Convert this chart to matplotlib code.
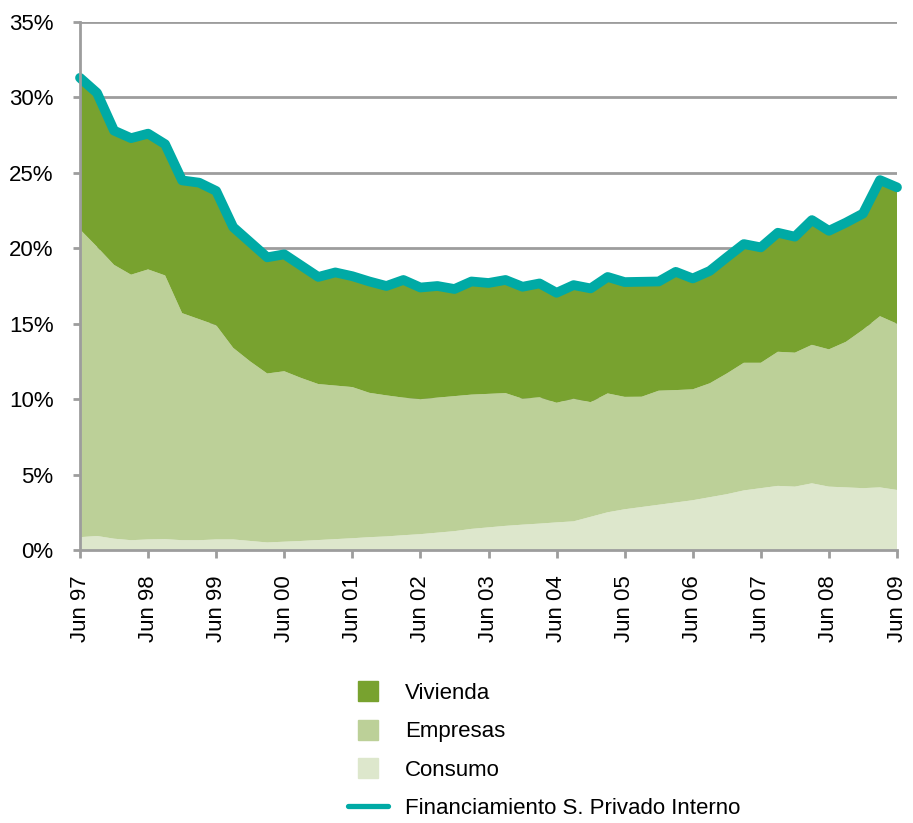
import numpy as np
import matplotlib
matplotlib.use("Agg")
import matplotlib.pyplot as plt
from matplotlib.lines import Line2D

plt.rcParams['font.family'] = ['Liberation Sans', 'DejaVu Sans']

# niveles acumulados (% del PIB), trimestral Jun 97 - Jun 09
consumo = [0.85, 0.93, 0.75, 0.65, 0.70, 0.72, 0.65, 0.65, 0.70, 0.70,
           0.60, 0.50, 0.55, 0.60, 0.66, 0.72, 0.78, 0.85, 0.90, 0.98,
           1.05, 1.15, 1.25, 1.40, 1.50, 1.60, 1.68, 1.75, 1.83, 1.90,
           2.20, 2.50, 2.70, 2.85, 3.00, 3.15, 3.30, 3.50, 3.70, 3.95,
           4.10, 4.25, 4.20, 4.42, 4.20, 4.15, 4.10, 4.15, 3.98]
tope_empresas = [21.25, 20.1, 18.9, 18.25, 18.6, 18.2, 15.7, 15.3, 14.9, 13.4,
                 12.5, 11.7, 11.85, 11.4, 11.0, 10.9, 10.8, 10.42, 10.25, 10.1,
                 10.0, 10.1, 10.2, 10.3, 10.35, 10.4, 10.03, 10.12, 9.76, 10.03,
                 9.8, 10.38, 10.15, 10.16, 10.56, 10.6, 10.65, 11.05, 11.7, 12.41,
                 12.41, 13.14, 13.08, 13.6, 13.3, 13.8, 14.6, 15.5, 15.0]
total = [31.3, 30.3, 27.8, 27.3, 27.6, 26.9, 24.5, 24.35, 23.8, 21.4,
         20.4, 19.4, 19.6, 18.85, 18.1, 18.4, 18.15, 17.8, 17.5, 17.9,
         17.4, 17.5, 17.3, 17.8, 17.7, 17.9, 17.45, 17.67, 17.05, 17.56,
         17.34, 18.1, 17.76, 17.78, 17.8, 18.44, 18.0, 18.5, 19.4, 20.28,
         20.06, 21.03, 20.77, 21.87, 21.16, 21.7, 22.3, 24.52, 24.04]
anios = ["97", "98", "99", "00", "01", "02", "03", "04", "05", "06", "07", "08", "09"]

consumo = np.array(consumo)
empresas = np.array(tope_empresas) - consumo
vivienda = np.array(total) - np.array(tope_empresas)
x = np.arange(len(total))

c_viv = "#78a22f"
c_emp = "#bcd098"
c_con = "#dde7cc"
c_tot = "#00aaa5"
gris = "#9d9d9d"

fig = plt.figure(figsize=(9.13, 8.23), dpi=100)
ax = fig.add_axes([80 / 913, 1 - 550 / 823, 817 / 913, 528 / 823])

ax.stackplot(x, consumo, empresas, vivienda, colors=[c_con, c_emp, c_viv],
             linewidth=0, zorder=2)
ax.plot(x, total, color=c_tot, lw=7, solid_capstyle="round",
        solid_joinstyle="round", zorder=3, clip_on=False)

ax.set_xlim(0, 48)
ax.set_ylim(0, 35)
ax.set_yticks(np.arange(0, 36, 5))
ax.set_yticklabels([f"{v}%" for v in range(0, 36, 5)], fontsize=16)
ax.set_xticks(np.arange(0, 49, 4))
ax.set_xticklabels(["Jun " + a for a in anios], rotation=90, fontsize=16)

ax.grid(axis="y", color=gris, lw=2, zorder=0)
ax.set_axisbelow(True)
for s in ["top", "right"]:
    ax.spines[s].set_visible(False)
for s in ["left", "bottom"]:
    ax.spines[s].set_color(gris)
    ax.spines[s].set_linewidth(2)
    ax.spines[s].set_zorder(4)
ax.tick_params(axis="both", colors=gris, width=2, labelcolor="black")
ax.tick_params(axis="y", length=5, pad=14)
ax.tick_params(axis="x", length=6, pad=12)

handles = [
    Line2D([], [], ls="none", marker="s", ms=13.7, color=c_viv),
    Line2D([], [], ls="none", marker="s", ms=13.7, color=c_emp),
    Line2D([], [], ls="none", marker="s", ms=13.7, color=c_con),
    Line2D([], [], color=c_tot, lw=3.8, solid_capstyle="round"),
]
labels = ["Vivienda", "Empresas", "Consumo", "Financiamiento S. Privado Interno"]
fig.legend(handles, labels, loc="upper left", bbox_to_anchor=(348 / 913, 1 - 683 / 823),
           frameon=False, fontsize=16, handlelength=1.8, handletextpad=0.77,
           labelspacing=0.78, borderpad=0, borderaxespad=0)

fig.savefig("out.png", dpi=100)
